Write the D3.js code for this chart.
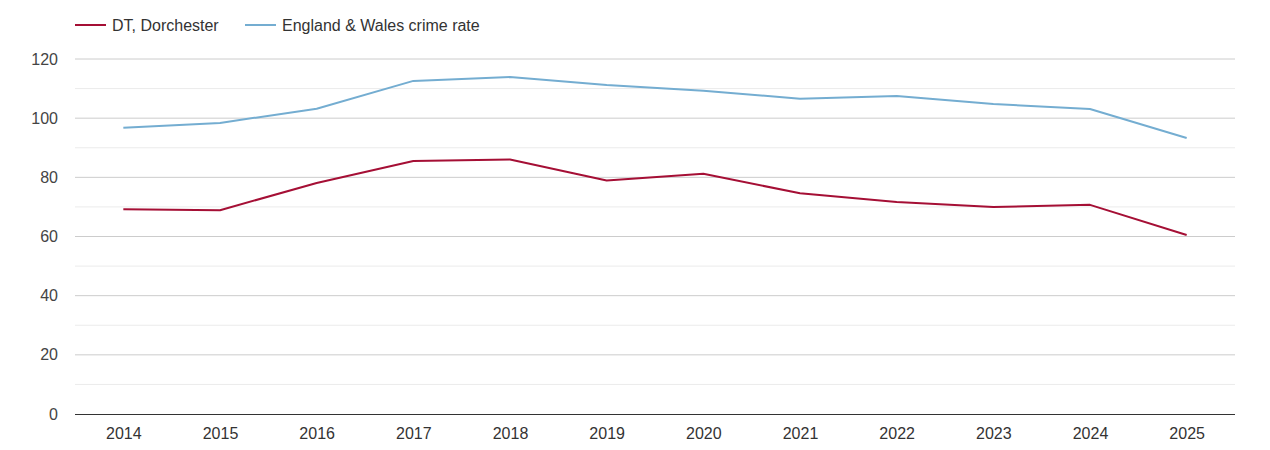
<!DOCTYPE html>
<html><head><meta charset="utf-8">
<script src="https://cdn.jsdelivr.net/npm/d3@7"></script>
<style>body{margin:0;background:#fff;}svg{display:block;font-family:"Liberation Sans",Arial,sans-serif;}</style>
</head><body><svg id="c" width="1270" height="450"></svg>
<script>
const years = ["2014","2015","2016","2017","2018","2019","2020","2021","2022","2023","2024","2025"];
const dorchester = [69.2,68.9,78.1,85.5,86.0,78.9,81.2,74.6,71.7,70.0,70.7,60.5];
const englandWales = [96.8,98.4,103.2,112.6,113.9,111.2,109.3,106.6,107.5,104.8,103.1,93.3];
const yTicks = [0,20,40,60,80,100,120];
const yMinor = [10,30,50,70,90,110];
const seriesNames = ["DT, Dorchester","England & Wales crime rate"];
const seriesColors = ["#a50f35","#74add1"];

const svg = d3.select("#c");
const m = {l:75,r:35,t:59,b:36};
const W = 1270, H = 450;
const x = d3.scalePoint().domain(years).range([m.l, W-m.r]).padding(0.5);
const y = d3.scaleLinear().domain([0,120]).range([H-m.b, m.t]);

svg.append("g").selectAll("line").data(yMinor).join("line")
  .attr("x1",m.l).attr("x2",W-m.r).attr("y1",d=>y(d)).attr("y2",d=>y(d))
  .attr("stroke","#ebebeb").attr("stroke-width",1);
svg.append("g").selectAll("line").data(yTicks.filter(d=>d>0)).join("line")
  .attr("x1",m.l).attr("x2",W-m.r).attr("y1",d=>y(d)).attr("y2",d=>y(d))
  .attr("stroke","#cccccc").attr("stroke-width",1);

const ya = svg.append("g").attr("transform",`translate(${m.l},0)`)
  .call(d3.axisLeft(y).tickValues(yTicks).tickSize(0).tickPadding(17));
ya.select(".domain").remove();
ya.selectAll("text").attr("fill","#444").style("font-size","16px");

const xa = svg.append("g").attr("transform",`translate(0,${H-m.b})`)
  .call(d3.axisBottom(x).tickSize(0).tickPadding(14));
xa.select(".domain").attr("stroke","#333").attr("d",`M${m.l},0.5H${W-m.r}`);
xa.selectAll("text").attr("fill","#333").style("font-size","16px");

const line = d3.line().x((d,i)=>x(years[i])).y(d=>y(d));
[englandWales, dorchester].forEach((s,k)=>{
  const c = k===0 ? seriesColors[1] : seriesColors[0];
  svg.append("path").datum(s).attr("d",line).attr("fill","none")
    .attr("stroke",c).attr("stroke-width",2).attr("stroke-linejoin","round");
});

const lg = svg.append("g");
const lx = [75,245];
seriesNames.forEach((n,i)=>{
  lg.append("line").attr("x1",lx[i]).attr("x2",lx[i]+31).attr("y1",25).attr("y2",25)
    .attr("stroke",seriesColors[i]).attr("stroke-width",2);
  lg.append("text").attr("x",lx[i]+37).attr("y",31).text(n)
    .attr("fill","#333").style("font-size","16px");
});
</script></body></html>
